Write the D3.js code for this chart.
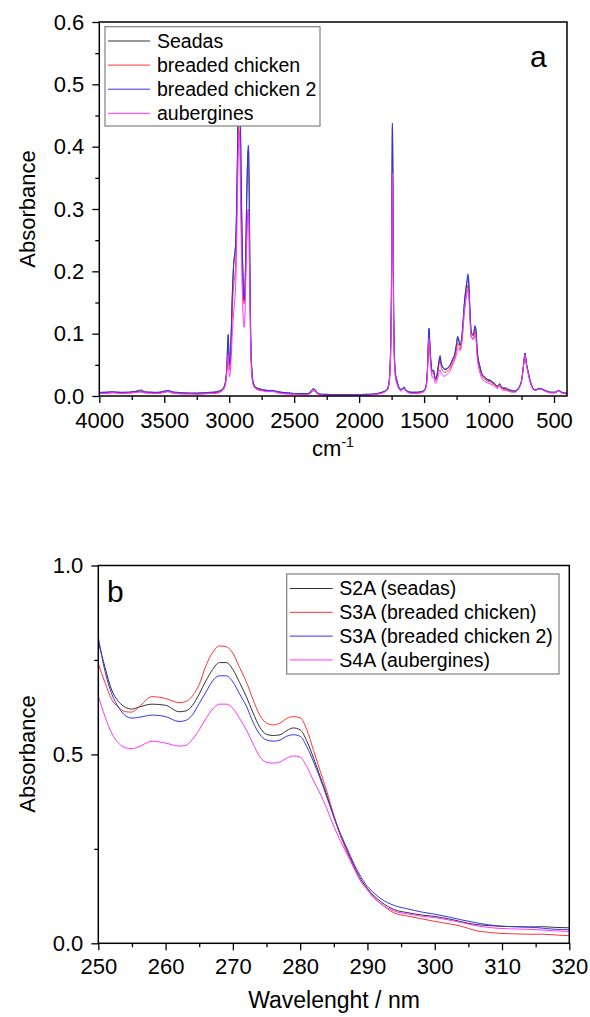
<!DOCTYPE html>
<html><head><meta charset="utf-8">
<script src="https://cdn.jsdelivr.net/npm/d3@7"></script>
<style>body{margin:0;background:#fff} text{font-family:"Liberation Sans",Arial,sans-serif;fill:#000}</style>
</head><body><svg id="c" width="590" height="1017"></svg>
<script>
// ---------- Panel a: FTIR spectra ----------
const irWavenumber = [
4000,3950,3900,3850,3800,3750,3700,3680,3650,3600,
3550,3500,3470,3440,3400,3350,3300,3250,3200,3150,
3100,3070,3050,3035,3025,3018,3012,3008,3003,2998,
2992,2985,2975,2965,2958,2950,2942,2935,2929,2925,
2922,2918,2913,2905,2897,2890,2885,2880,2873,2866,
2860,2855,2852,2848,2843,2838,2832,2825,2815,2800,
2770,2740,2710,2680,2660,2630,2600,2550,2500,2450,
2400,2380,2365,2350,2338,2320,2300,2250,2200,2150,
2100,2050,2000,1950,1900,1860,1830,1805,1790,1780,
1772,1765,1760,1755,1750,1747,1744,1741,1738,1734,
1730,1725,1718,1710,1700,1690,1680,1665,1655,1645,
1630,1600,1560,1520,1500,1490,1480,1473,1467,1463,
1458,1452,1445,1437,1428,1418,1410,1400,1390,1383,
1377,1370,1360,1350,1340,1320,1300,1280,1265,1250,
1241,1232,1224,1218,1210,1200,1190,1180,1170,1163,
1158,1152,1145,1138,1130,1122,1115,1108,1100,1093,
1085,1075,1065,1055,1045,1030,1015,1000,985,970,
955,940,928,918,910,900,885,870,855,840,
825,810,800,790,775,762,750,740,732,726,
722,718,712,705,698,690,680,670,660,645,
630,610,590,570,545,520,500,480,465,455,
440,420,400];
const irSeadas = [
.005,.006,.006,.006,.005,.006,.007,.008,.006,.006,
.005,.007,.008,.006,.005,.005,.004,.004,.005,.005,
.006,.008,.011,.017,.029,.048,.082,.095,.072,.050,
.058,.098,.168,.212,.225,.245,.310,.400,.480,.510,
.520,.500,.420,.300,.215,.168,.153,.162,.225,.305,
.365,.392,.395,.355,.255,.148,.074,.039,.021,.014,
.011,.010,.009,.008,.008,.007,.006,.005,.004,.003,
.003,.005,.009,.011,.009,.004,.003,.002,.002,.002,
.002,.002,.002,.002,.003,.004,.005,.007,.009,.012,
.019,.034,.058,.107,.215,.345,.430,.375,.255,.138,
.078,.049,.032,.025,.017,.012,.010,.012,.014,.010,
.008,.006,.006,.007,.009,.012,.024,.049,.088,.107,
.093,.069,.049,.039,.041,.031,.027,.034,.049,.058,
.063,.054,.047,.044,.042,.044,.049,.058,.066,.083,
.094,.088,.081,.082,.093,.118,.147,.167,.182,.192,
.187,.162,.128,.104,.098,.097,.104,.111,.103,.079,
.061,.051,.042,.035,.032,.029,.026,.025,.024,.021,
.019,.015,.016,.019,.016,.013,.012,.012,.010,.009,
.008,.008,.008,.009,.012,.017,.025,.040,.055,.066,
.069,.062,.052,.045,.038,.030,.022,.016,.012,.010,
.011,.012,.011,.009,.007,.006,.006,.007,.009,.008,
.006,.005,.004];
const irBreadedChicken = [
.005,.004,.006,.005,.006,.005,.009,.008,.005,.006,
.004,.006,.007,.005,.004,.004,.004,.003,.004,.005,
.005,.007,.010,.015,.025,.040,.060,.068,.055,.042,
.048,.085,.145,.180,.190,.215,.290,.380,.440,.465,
.470,.440,.360,.260,.190,.155,.148,.155,.200,.250,
.285,.298,.300,.275,.200,.120,.062,.034,.019,.013,
.010,.009,.008,.008,.008,.006,.005,.004,.003,.003,
.003,.004,.007,.009,.008,.004,.002,.002,.001,.001,
.001,.001,.001,.002,.002,.003,.005,.007,.009,.011,
.017,.030,.050,.090,.180,.290,.357,.310,.210,.115,
.068,.043,.029,.023,.016,.011,.009,.011,.013,.010,
.007,.005,.005,.006,.008,.011,.022,.045,.080,.095,
.085,.062,.044,.035,.037,.028,.024,.031,.044,.053,
.056,.048,.042,.039,.038,.040,.045,.054,.061,.076,
.085,.081,.075,.077,.087,.110,.138,.157,.170,.178,
.174,.152,.120,.097,.093,.091,.097,.103,.096,.072,
.056,.047,.038,.032,.029,.027,.024,.023,.022,.019,
.018,.014,.015,.018,.015,.012,.011,.011,.009,.008,
.007,.007,.007,.008,.011,.016,.024,.039,.054,.065,
.067,.060,.050,.043,.036,.028,.020,.015,.011,.009,
.010,.011,.010,.008,.006,.005,.005,.006,.008,.007,
.005,.004,.003];
const irBreadedChicken2 = [
.006,.006,.007,.006,.006,.007,.008,.010,.007,.006,
.006,.008,.009,.007,.006,.005,.005,.005,.005,.006,
.007,.009,.012,.018,.030,.050,.085,.099,.075,.052,
.060,.100,.170,.215,.228,.250,.320,.420,.520,.575,
.590,.550,.440,.310,.220,.170,.155,.165,.230,.310,
.370,.398,.402,.360,.260,.150,.075,.040,.022,.015,
.012,.010,.009,.009,.009,.007,.006,.005,.004,.004,
.004,.006,.010,.012,.010,.005,.003,.003,.002,.002,
.002,.002,.002,.003,.003,.004,.006,.008,.010,.013,
.020,.035,.060,.110,.220,.350,.4375,.380,.260,.140,
.080,.050,.033,.026,.018,.013,.011,.012,.015,.011,
.008,.006,.006,.007,.009,.013,.025,.050,.090,.109,
.095,.070,.050,.040,.042,.032,.028,.035,.050,.060,
.065,.055,.048,.045,.043,.045,.050,.060,.067,.085,
.096,.090,.083,.084,.095,.120,.150,.170,.185,.196,
.190,.165,.130,.105,.100,.098,.105,.113,.105,.080,
.062,.052,.043,.036,.033,.030,.027,.026,.025,.022,
.020,.016,.017,.020,.017,.014,.013,.013,.011,.010,
.009,.008,.008,.009,.012,.017,.025,.040,.055,.066,
.069,.062,.052,.045,.038,.030,.022,.016,.012,.010,
.011,.012,.011,.009,.007,.006,.006,.007,.009,.008,
.006,.005,.004];
const irAubergines = [
.004,.004,.005,.004,.004,.005,.006,.006,.005,.004,
.004,.006,.007,.005,.004,.003,.003,.003,.003,.004,
.004,.006,.009,.014,.024,.040,.058,.066,.045,.031,
.036,.062,.105,.135,.152,.180,.250,.340,.400,.420,
.425,.400,.320,.220,.150,.118,.110,.122,.180,.240,
.280,.298,.300,.270,.195,.115,.058,.030,.017,.012,
.009,.008,.007,.007,.007,.005,.004,.003,.003,.002,
.002,.003,.006,.008,.007,.003,.002,.001,.001,.001,
.001,.001,.001,.001,.002,.003,.004,.006,.008,.010,
.016,.029,.050,.090,.180,.290,.357,.310,.210,.112,
.065,.040,.026,.020,.014,.010,.008,.010,.012,.009,
.006,.004,.004,.005,.007,.010,.020,.042,.078,.092,
.080,.056,.038,.030,.031,.023,.020,.025,.034,.040,
.042,.037,.034,.032,.032,.035,.040,.050,.057,.068,
.076,.075,.072,.075,.085,.108,.135,.152,.165,.171,
.168,.147,.115,.094,.092,.091,.093,.098,.090,.066,
.050,.041,.033,.028,.025,.023,.021,.020,.019,.017,
.015,.012,.013,.016,.013,.010,.009,.009,.008,.007,
.006,.006,.006,.007,.010,.015,.023,.038,.053,.064,
.066,.059,.049,.042,.035,.027,.019,.014,.010,.009,
.010,.011,.010,.008,.006,.005,.005,.006,.008,.007,
.005,.004,.003];
const irNames = ["Seadas","breaded chicken","breaded chicken 2","aubergines"];
const irXTicks = [4000,3500,3000,2500,2000,1500,1000,500];
const irXMinor = [3750,3250,2750,2250,1750,1250,750];
const irYTicks = [0,0.1,0.2,0.3,0.4,0.5,0.6];
const irYMinor = [0.05,0.15,0.25,0.35,0.45,0.55];

// ---------- Panel b: UV spectra ----------
const uvWavelength = [250,251,252,253,254,255,256,258,260,262,263,264,265,266,267,268,269,270,271,272,273,274,275,276,277,278,279,280,281,282,283,284,285,286,287,288,289,290,291,292,294,296,298,300,302,304,306,308,310,312,314,316,318,320];
const uvS2A = [0.80,0.73,0.67,0.64,0.625,0.62,0.625,0.633,0.63,0.613,0.615,0.63,0.66,0.695,0.725,0.743,0.743,0.725,0.69,0.653,0.61,0.572,0.553,0.55,0.552,0.563,0.57,0.565,0.535,0.49,0.44,0.39,0.335,0.285,0.245,0.205,0.17,0.145,0.125,0.11,0.089,0.081,0.075,0.071,0.065,0.057,0.050,0.047,0.045,0.044,0.043,0.044,0.042,0.041];
const uvS3A = [0.74,0.69,0.645,0.625,0.613,0.612,0.625,0.653,0.648,0.637,0.64,0.655,0.685,0.735,0.77,0.787,0.785,0.768,0.73,0.692,0.645,0.604,0.583,0.578,0.583,0.595,0.600,0.597,0.565,0.51,0.455,0.40,0.34,0.285,0.24,0.20,0.165,0.142,0.12,0.105,0.08,0.072,0.065,0.058,0.052,0.045,0.034,0.029,0.026,0.025,0.024,0.024,0.022,0.020];
const uvS3A2 = [0.81,0.72,0.66,0.625,0.603,0.596,0.598,0.604,0.60,0.587,0.59,0.605,0.635,0.665,0.695,0.708,0.708,0.692,0.66,0.628,0.585,0.553,0.538,0.535,0.538,0.548,0.552,0.548,0.52,0.48,0.435,0.385,0.335,0.29,0.25,0.21,0.177,0.15,0.133,0.118,0.10,0.091,0.083,0.077,0.07,0.062,0.055,0.049,0.045,0.044,0.043,0.04,0.037,0.036];
const uvS4A = [0.655,0.60,0.556,0.53,0.518,0.515,0.52,0.535,0.53,0.522,0.524,0.54,0.565,0.595,0.62,0.633,0.633,0.622,0.595,0.565,0.528,0.494,0.479,0.477,0.48,0.49,0.496,0.493,0.467,0.43,0.395,0.355,0.31,0.27,0.235,0.198,0.165,0.141,0.12,0.105,0.085,0.078,0.072,0.068,0.062,0.055,0.047,0.042,0.039,0.038,0.037,0.035,0.033,0.031];
const uvNames = ["S2A (seadas)","S3A (breaded chicken)","S3A (breaded chicken 2)","S4A (aubergines)"];
const uvXTicks = [250,260,270,280,290,300,310,320];
const uvXMinor = [255,265,275,285,295,305,315];
const uvYTicks = [0,0.5,1.0];
const uvYMinor = [0.25,0.75];

const colors = ["#333333","#ff3333","#3333ee","#ff33ff"];

const svg = d3.select("#c");

function panel(o){
  const g = svg.append("g");
  const x = d3.scaleLinear().domain(o.xDom).range([o.left,o.right]);
  const y = d3.scaleLinear().domain(o.yDom).range([o.bottom,o.top]);
  const cid = "clip"+o.id;
  svg.append("clipPath").attr("id",cid).append("rect")
    .attr("x",o.left).attr("y",o.top).attr("width",o.right-o.left).attr("height",o.bottom-o.top);
  // lines
  const line = d3.line().x(d=>x(d[0])).y(d=>y(d[1])).curve(d3.curveMonotoneX);
  const lg = g.append("g").attr("clip-path","url(#"+cid+")");
  o.series.forEach((s,i)=>{
    lg.append("path").datum(o.xs.map((v,k)=>[v,s[k]]))
      .attr("d",line).attr("fill","none").attr("stroke",colors[i]).attr("stroke-width",1);
  });
  // axes
  const ax = g.append("g").attr("transform",`translate(0,${o.bottom})`)
    .call(d3.axisBottom(x).tickValues(o.xTicks).tickSize(7).tickPadding(o.xPad).tickFormat(d3.format("d")));
  g.append("g").attr("transform",`translate(0,${o.bottom})`)
    .call(d3.axisBottom(x).tickValues(o.xMinor).tickSize(4).tickFormat(""));
  const ay = g.append("g").attr("transform",`translate(${o.left},0)`)
    .call(d3.axisLeft(y).tickValues(o.yTicks).tickSize(7).tickPadding(8).tickFormat(d3.format(".1f")));
  g.append("g").attr("transform",`translate(${o.left},0)`)
    .call(d3.axisLeft(y).tickValues(o.yMinor).tickSize(4).tickFormat(""));
  g.selectAll(".domain").remove();
  g.selectAll(".tick line").attr("stroke","#000").attr("stroke-width",1.3);
  g.selectAll(".tick text").attr("font-size",22).attr("font-family","Liberation Sans, Arial, sans-serif").attr("fill","#000");
  // frame
  g.append("rect").attr("x",o.left).attr("y",o.top).attr("width",o.right-o.left).attr("height",o.bottom-o.top)
    .attr("fill","none").attr("stroke","#000").attr("stroke-width",1.5);
  // legend
  const L = o.legend;
  const lgd = g.append("g");
  lgd.append("rect").attr("x",L.x).attr("y",L.y).attr("width",L.w).attr("height",L.h)
    .attr("fill","#fff").attr("stroke","#808080").attr("stroke-width",1.2);
  o.names.forEach((n,i)=>{
    const yy = L.y + L.first + i*L.step;
    lgd.append("line").attr("x1",L.x+3).attr("x2",L.x+L.lineW).attr("y1",yy).attr("y2",yy)
      .attr("stroke",colors[i]).attr("stroke-width",1);
    lgd.append("text").attr("x",L.x+L.textX).attr("y",yy).attr("dy","0.35em")
      .attr("font-size",19.5).text(n);
  });
  // panel letter
  g.append("text").attr("x",o.letter[0]).attr("y",o.letter[1]).attr("font-size",30).text(o.letter[2]);
  // y title
  g.append("text").attr("transform",`translate(${o.yTitle[0]},${o.yTitle[1]}) rotate(-90)`)
    .attr("text-anchor","middle").attr("dy","0.35em").attr("font-size",22).text("Absorbance");
  return {x,y,g};
}

const pa = panel({id:"a",xDom:[4000,400],yDom:[0,0.6],left:99.3,right:567,top:22,bottom:396,
  xs:irWavenumber,series:[irSeadas,irBreadedChicken,irBreadedChicken2,irAubergines],names:irNames,
  xTicks:irXTicks,xMinor:irXMinor,yTicks:irYTicks,yMinor:irYMinor,xPad:9,
  legend:{x:105,y:26.7,w:215,h:99.3,first:14.3,step:24.1,lineW:45,textX:52},
  letter:[530,66.5,"a"],yTitle:[27,209]});
// x title with superscript
const tA = pa.g.append("text").attr("x",333).attr("y",456).attr("text-anchor","middle").attr("font-size",22);
tA.append("tspan").text("cm");
tA.append("tspan").attr("dy",-9).attr("font-size",14).text("-1");

const pb = panel({id:"b",xDom:[250,320],yDom:[0,1],left:98.3,right:569.3,top:565.5,bottom:943.3,
  xs:uvWavelength,series:[uvS2A,uvS3A,uvS3A2,uvS4A],names:uvNames,
  xTicks:uvXTicks,xMinor:uvXMinor,yTicks:uvYTicks,yMinor:uvYMinor,xPad:8,
  legend:{x:286.7,y:574,w:272.3,h:100,first:14.5,step:23.8,lineW:46,textX:52.6},
  letter:[107,602,"b"],yTitle:[27,754]});
pb.g.append("text").attr("x",334).attr("y",1008).attr("text-anchor","middle").attr("font-size",23).text("Wavelenght / nm");
</script></body></html>
